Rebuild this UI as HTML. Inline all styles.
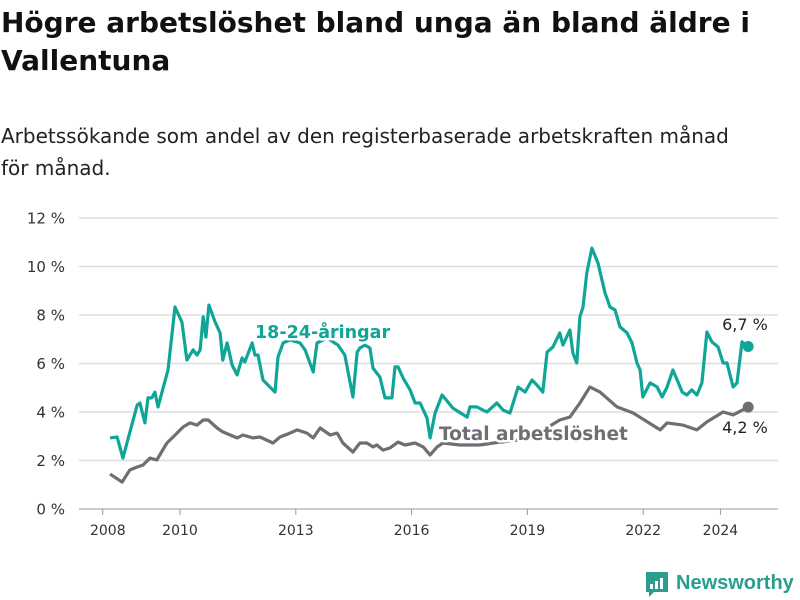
<!DOCTYPE html>
<html><head><meta charset="utf-8"><style>
html,body{margin:0;padding:0;background:#fff;width:800px;height:600px;overflow:hidden;font-family:"DejaVu Sans","Liberation Sans",sans-serif;}
#title{position:absolute;left:1px;top:4px;margin:0;font-size:28px;font-weight:bold;line-height:38px;color:#111;width:795px;}
#sub{position:absolute;left:1px;top:120px;margin:0;font-size:20px;line-height:32px;color:#222;width:745px;}
svg{position:absolute;left:0;top:0;}
</style></head><body>
<h1 id="title">Högre arbetslöshet bland unga än bland äldre i Vallentuna</h1>
<p id="sub">Arbetssökande som andel av den registerbaserade arbetskraften månad för månad.</p>
<svg id="chart" width="800" height="600"></svg>
<script>
const yTicks=[0,2,4,6,8,10,12];
const xTicks=[2008,2010,2013,2016,2019,2022,2024];
const youthDates=[2008.19,2008.37,2008.52,2008.89,2008.96,2009.09,2009.17,2009.27,2009.35,2009.43,2009.69,2009.87,2010.05,2010.18,2010.34,2010.44,2010.52,2010.60,2010.67,2010.75,2010.91,2011.04,2011.11,2011.22,2011.35,2011.48,2011.61,2011.68,2011.87,2011.94,2012.02,2012.15,2012.33,2012.46,2012.54,2012.67,2012.85,2013.11,2013.24,2013.45,2013.55,2013.81,2014.09,2014.27,2014.48,2014.59,2014.66,2014.79,2014.92,2015.00,2015.18,2015.31,2015.49,2015.57,2015.65,2015.78,2015.96,2016.09,2016.22,2016.40,2016.48,2016.61,2016.79,2017.07,2017.44,2017.51,2017.69,2017.95,2018.21,2018.37,2018.55,2018.76,2018.94,2019.12,2019.25,2019.40,2019.51,2019.66,2019.84,2019.92,2020.10,2020.18,2020.28,2020.36,2020.44,2020.54,2020.67,2020.83,2021.01,2021.14,2021.27,2021.40,2021.58,2021.71,2021.84,2021.92,2021.99,2022.18,2022.36,2022.49,2022.62,2022.77,2022.88,2023.01,2023.13,2023.26,2023.39,2023.52,2023.65,2023.78,2023.94,2024.07,2024.17,2024.33,2024.43,2024.56,2024.72];
const youthValues=[2.93,2.97,2.10,4.29,4.37,3.55,4.58,4.58,4.82,4.21,5.73,8.33,7.71,6.14,6.56,6.35,6.56,7.92,7.09,8.41,7.71,7.26,6.14,6.85,5.94,5.53,6.23,6.06,6.85,6.35,6.35,5.32,5.03,4.82,6.27,6.85,6.97,6.85,6.56,5.65,6.85,7.05,6.76,6.35,4.62,6.47,6.64,6.76,6.64,5.81,5.44,4.58,4.58,5.86,5.86,5.40,4.91,4.37,4.37,3.75,2.93,3.96,4.70,4.16,3.79,4.21,4.21,4.00,4.37,4.08,3.96,5.03,4.82,5.32,5.11,4.82,6.47,6.68,7.26,6.76,7.38,6.43,6.02,7.92,8.33,9.73,10.76,10.14,8.91,8.33,8.21,7.51,7.26,6.85,6.02,5.73,4.62,5.20,5.03,4.62,5.03,5.73,5.32,4.82,4.70,4.91,4.70,5.20,7.30,6.89,6.68,6.02,6.02,5.03,5.20,6.89,6.70];
const totalDates=[2008.19,2008.50,2008.70,2008.89,2009.04,2009.22,2009.40,2009.66,2009.82,2010.08,2010.26,2010.44,2010.60,2010.73,2010.96,2011.11,2011.48,2011.63,2011.89,2012.07,2012.41,2012.59,2012.85,2013.03,2013.29,2013.45,2013.63,2013.89,2014.07,2014.22,2014.48,2014.66,2014.84,2015.00,2015.10,2015.26,2015.44,2015.65,2015.83,2016.09,2016.30,2016.48,2016.66,2016.81,2017.25,2017.77,2018.29,2018.81,2019.33,2019.84,2020.10,2020.36,2020.62,2020.88,2021.32,2021.74,2022.44,2022.62,2023.03,2023.39,2023.65,2024.07,2024.33,2024.72];
const totalValues=[1.44,1.11,1.61,1.73,1.81,2.10,2.02,2.72,2.97,3.38,3.55,3.46,3.67,3.67,3.34,3.18,2.93,3.05,2.93,2.97,2.72,2.97,3.13,3.26,3.13,2.93,3.34,3.05,3.13,2.72,2.35,2.72,2.72,2.56,2.64,2.43,2.52,2.76,2.64,2.72,2.56,2.23,2.56,2.72,2.64,2.64,2.76,2.85,3.18,3.67,3.79,4.37,5.03,4.82,4.21,3.96,3.26,3.55,3.46,3.26,3.59,4.00,3.88,4.20];
const endLabels=["6,7 %","4,2 %"];

const NS="http://www.w3.org/2000/svg";
const svg=document.getElementById('chart');
const X=t=>180+(t-2010)*38.6;
const Y=v=>509-v*24.25;
function mk(tag,attrs,parent){const e=document.createElementNS(NS,tag);for(const k in attrs)e.setAttribute(k,attrs[k]);(parent||svg).appendChild(e);return e;}

yTicks.forEach(v=>{
  const l=mk('line',{x1:79,x2:778,y1:Y(v),y2:Y(v),stroke:v===0?'#bbb':'#ddd','stroke-width':1.5});
  
  
  const t=mk('text',{x:65,y:Y(v)+5.5,'text-anchor':'end','font-size':15,fill:'#333'});
  t.textContent=v+' %';
  
  
});
xTicks.forEach(yr=>{
  const tk=mk('line',{x1:X(yr),x2:X(yr),y1:509,y2:515,stroke:'#999','stroke-width':1});
  
  
  const t=mk('text',{x:X(yr)+(yr===2008?5:0),y:535,'text-anchor':'middle','font-size':14,fill:'#333'});
  t.textContent=yr;
  
  
});
function pathD(ds,vs){return ds.map((d,i)=>(i?'L':'M')+X(d).toFixed(1)+','+Y(vs[i]).toFixed(1)).join('');}
const tl=mk('path',{d:pathD(totalDates,totalValues),fill:'none',stroke:'#6f6e73','stroke-width':3.2,'stroke-linejoin':'round'});


const yl=mk('path',{d:pathD(youthDates,youthValues),fill:'none',stroke:'#0fa597','stroke-width':3.2,'stroke-linejoin':'round'});



const l1=mk('text',{x:255,y:338,'font-size':17.5,'font-weight':'bold',fill:'#0fa597',stroke:'#fff','stroke-width':5,'paint-order':'stroke','stroke-linejoin':'round'});
l1.textContent='18-24-åringar';


const l2=mk('text',{x:439,y:440,'font-size':18.5,'font-weight':'bold',fill:'#6f6e73',stroke:'#fff','stroke-width':5,'paint-order':'stroke','stroke-linejoin':'round'});
l2.textContent='Total arbetslöshet';



const yn=youthDates.length-1, tn=totalDates.length-1;
const d1=mk('circle',{cx:X(youthDates[yn]),cy:Y(youthValues[yn]),r:5.5,fill:'#0fa597'});


const d2=mk('circle',{cx:X(totalDates[tn]),cy:Y(totalValues[tn]),r:5.5,fill:'#6f6e73'});


const e1=mk('text',{x:745,y:330,'text-anchor':'middle','font-size':16,fill:'#222'});
e1.textContent=endLabels[0];


const e2=mk('text',{x:745,y:433,'text-anchor':'middle','font-size':16,fill:'#222'});
e2.textContent=endLabels[1];



const logo=mk('g',{});


mk('path',{d:'M646,572 h22 v20 h-14 l-5,5 v-5 h-3 z',fill:'#2a9d8f'},logo);
mk('rect',{x:650,y:584,width:3,height:5,fill:'#fff'},logo);
mk('rect',{x:655,y:581,width:3,height:8,fill:'#fff'},logo);
mk('rect',{x:660,y:578,width:3,height:11,fill:'#fff'},logo);
const lt=mk('text',{x:676,y:589,'font-size':20,fill:'#2a9d8f','font-family':'Liberation Sans, sans-serif','font-weight':'bold'},logo);
lt.textContent='Newsworthy';
</script>
</body></html>
